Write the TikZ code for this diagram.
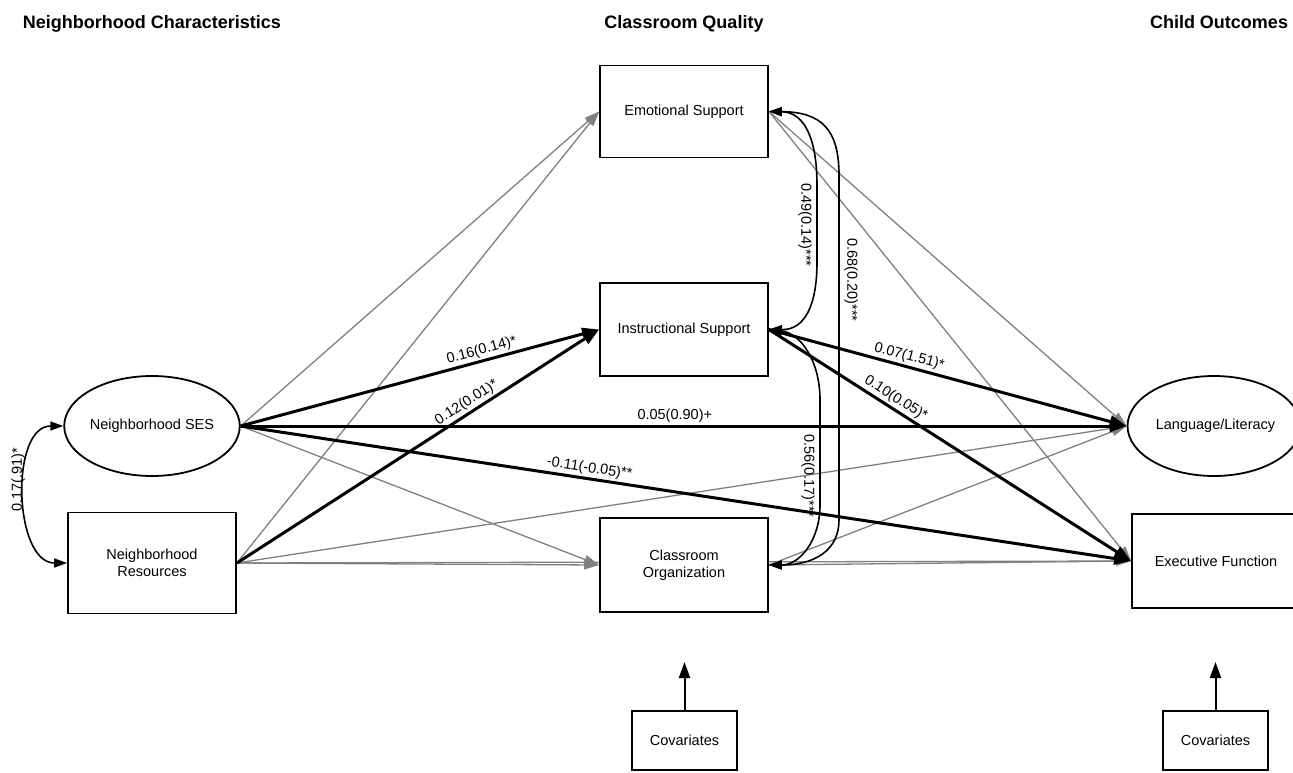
\documentclass[tikz,border=0pt]{standalone}
\usepackage{fontspec}
\setmainfont{Liberation Sans}
\usetikzlibrary{arrows.meta,shapes.geometric,backgrounds}
\newcommand\myfnt{\fontsize{14.5}{17.5}\selectfont}
\newcommand\myhdr{\fontsize{18}{21}\selectfont\bfseries}
\begin{document}
\begin{tikzpicture}[x=1pt,y=-1pt,
  box/.style={draw,line width=1.8pt,fill=white,minimum width=168pt,inner sep=0pt,align=center,font=\myfnt},
  ell/.style={ellipse,draw,line width=1.8pt,fill=white,minimum width=167pt,minimum height=100pt,inner sep=0pt,font=\myfnt},
  covbox/.style={draw,line width=1.8pt,fill=white,minimum width=105pt,minimum height=59pt,inner sep=0pt,font=\myfnt},
  hdr/.style={font=\myhdr,anchor=base,inner sep=0pt},
  grayarrow/.style={draw=black!50,line width=1.3pt,-{Triangle[length=15pt,width=9pt]}},
  thickarrow/.style={draw=black,line width=3pt,-{Triangle[length=17pt,width=12pt]}},
  corr/.style={draw=black,line width=1.6pt,{Triangle[length=13pt,width=9pt]}-{Triangle[length=13pt,width=9pt]}},
  covarrow/.style={draw=black,line width=2pt,-{Triangle[length=16pt,width=11pt]}},
  lab/.style={font=\myfnt,sloped,above,inner sep=2pt},
  vlab/.style={font=\myfnt,inner sep=0pt}
]
\useasboundingbox (0,0) rectangle (1293,772);

% headers
\node[hdr] (h1) at (152,28) {Neighborhood Characteristics};
\node[hdr] (h2) at (684,28) {Classroom Quality};
\node[hdr] (h3) at (1219,28) {Child Outcomes};

% nodes
\node[ell] (ses) at (152,426) {Neighborhood SES};
\node[box,minimum height=101pt] (nr) at (152,563) {Neighborhood\\Resources};
\node[box,minimum height=92pt] (es) at (684,111.5) {Emotional Support};
\node[box,minimum height=93pt] (is) at (684,329.5) {Instructional Support};
\node[box,minimum height=94pt] (co) at (684,565) {Classroom\\Organization};
\node[ell,minimum width=164pt] (ll) at (1214,426) {\hspace*{3pt}Language/Literacy};
\node[box,minimum height=94pt] (ef) at (1216,561) {Executive Function};
\node[covbox] (cov1) at (684.5,740.5) {Covariates};
\node[covbox] (cov2) at (1215.5,740.5) {Covariates};
\coordinate (c1top) at (684.5,662);
\coordinate (c2top) at (1215.5,662);

\begin{pgfonlayer}{background}
% gray paths
\draw[grayarrow] (nr.east) -- (ef.west);
\draw[grayarrow] (ses.east) -- (es.west);
\draw[grayarrow] (nr.east) -- (es.west);
\draw[grayarrow] (ses.east) -- (co.west);
\draw[grayarrow] (nr.east) -- (co.west);
\draw[grayarrow] (nr.east) -- (ll.west);
\draw[grayarrow] (es.east) -- (ll.west);
\draw[grayarrow] (es.east) -- (ef.west);
\draw[grayarrow] (co.east) -- (ll.west);
\draw[grayarrow] (co.east) -- (ef.west);
% thick paths
\draw[thickarrow] (ses.east) -- node[lab,pos=0.68] (l1) {0.16(0.14)*} (is.west);
\draw[thickarrow] (nr.east) -- node[lab,pos=0.65] (l2) {0.12(0.01)*} (is.west);
\draw[thickarrow] (ses.east) -- node[lab,pos=0.49] (l3) {0.05(0.90)+} (ll.west);
\draw[thickarrow] (ses.east) -- node[lab,pos=0.39] (l4) {-0.11(-0.05)**} (ef.west);
\draw[thickarrow] (is.east) -- node[lab,pos=0.385] (l5) {0.07(1.51)*} (ll.west);
\draw[thickarrow] (is.east) -- node[lab,pos=0.335] (l6) {0.10(0.05)*} (ef.west);
\end{pgfonlayer}

% correlations
\draw[corr] (ses.west) to[out=180,in=180,looseness=1] (nr.west);
\node[vlab,rotate=90] (l7) at (18,480) {0.17(.91)*};

\draw[corr] (es.east) .. controls (805,112) and (817,140) .. (817,185) -- (817,262) .. controls (817,305) and (805,330) .. (is.east);
\node[vlab,rotate=-90] (l8) at (805,225) {0.49(0.14)***};

\draw[corr] (es.east) .. controls (822,112) and (839,130) .. (839,175) -- (839,520) .. controls (839,550) and (815,565) .. (co.east);
\node[vlab,rotate=-90] (l9) at (851,280) {0.68(0.20)***};

\draw[corr] (is.east) .. controls (800,333) and (820,360) .. (820,400) -- (820,505) .. controls (820,540) and (800,565) .. (co.east);
\node[vlab,rotate=-90] (l10) at (808,476) {0.56(0.17)***};

% covariates
\draw[covarrow] (cov1.north) -- (c1top);
\draw[covarrow] (cov2.north) -- (c2top);
\end{tikzpicture}
\end{document}
